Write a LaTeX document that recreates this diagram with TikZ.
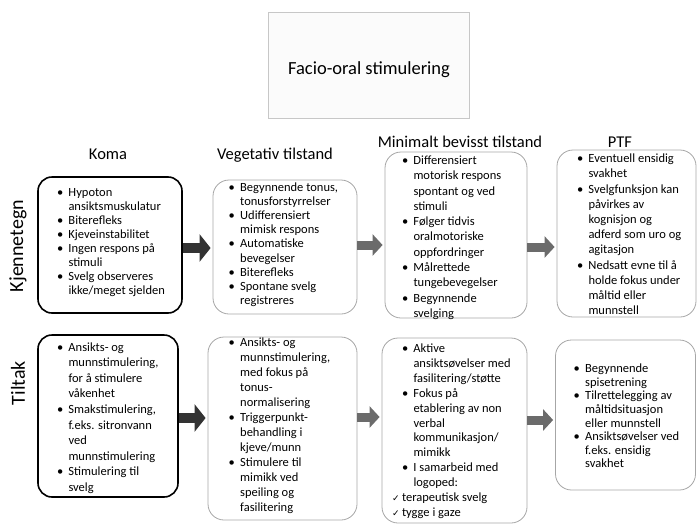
\documentclass[tikz,border=0pt]{standalone}
\usepackage{fontspec}
\setmainfont{Carlito}
\newfontfamily\symfont{DejaVu Sans}
\usetikzlibrary{arrows.meta}

% bullet with hanging indent, continuation indent, tick mark
\newcommand\bul{\makebox[11.5pt][l]{•}}
\newcommand\ind{\hspace*{11.5pt}}
\newcommand\chk{\hspace*{-10pt}\makebox[10pt][l]{\symfont\fontsize{9}{9}\selectfont ✓}}

\tikzset{
  kbox/.style={draw=black, line width=1.6pt, rounded corners=14pt, inner sep=0pt},
  gbox/.style={draw=black!35, line width=0.8pt, rounded corners=16pt, inner sep=0pt},
  txt/.style={anchor=north west, align=left, inner sep=0pt,
    font=\fontsize{12.5}{#1}\selectfont, execute at begin node={\rule{0pt}{9pt}}},
  head/.style={anchor=base, inner sep=0pt, font=\fontsize{16.5}{19}\selectfont},
  side/.style={rotate=90, inner sep=0pt, font=\fontsize{20}{24}\selectfont},
  darr/.style={line width=10pt, draw=black!80, shorten >=2pt,
    -{Triangle[length=11pt,width=27pt]}},
  garr/.style={line width=9pt, draw=black!58, shorten >=2pt,
    -{Triangle[length=10pt,width=21pt]}}
}

\begin{document}
\begin{tikzpicture}[x=1pt,y=-1pt]
\useasboundingbox (0,0) rectangle (698,525);

% title
\node[draw=black!22, fill=black!1.5, line width=0.6pt, minimum width=201pt,
  minimum height=106pt, inner sep=0pt] (titlebox) at (368.5,65) {};
\node[font=\fontsize{18.5}{22}\selectfont, inner sep=0pt] (title) at (369,70)
  {Facio-oral stimulering};

% column headings
\node[head] (hk) at (108,159) {Koma};
\node[head] (hv) at (275,159) {Vegetativ tilstand};
\node[head] (hm) at (460,147.5) {Minimalt bevisst tilstand};
\node[head] (hp) at (620,147.5) {PTF};

% row headings
\node[side] (rk) at (18,246) {Kjennetegn};
\node[side] (rt) at (18,383) {Tiltak};

% boxes, first row
\node[kbox, minimum width=144pt, minimum height=136pt] (k1) at (110,245) {};
\node[gbox, minimum width=144pt, minimum height=134pt] (v1) at (285,247) {};
\node[gbox, minimum width=142pt, minimum height=166pt] (m1) at (456,235) {};
\node[gbox, minimum width=139pt, minimum height=167pt] (p1) at (626.5,233.5) {};

% boxes, second row
\node[kbox, minimum width=140pt, minimum height=162pt] (k2) at (108,416) {};
\node[gbox, minimum width=149pt, minimum height=183pt] (v2) at (282.5,428.5) {};
\node[gbox, minimum width=145pt, minimum height=185pt] (m2) at (454.5,430.5) {};
\node[gbox, minimum width=140pt, minimum height=150pt] (p2) at (625.5,415) {};

% texts, first row
\node[txt=14.0] (k1t) at (56.8,188.5) {\bul Hypoton\\
\ind ansiktsmuskulatur\\
\bul Biterefleks\\
\bul Kjeveinstabilitet\\
\bul Ingen respons på\\
\ind stimuli\\
\bul Svelg observeres\\
\ind ikke/meget sjelden};

\node[txt=14.2] (v1t) at (228.5,182.2) {\bul Begynnende tonus,\\
\ind tonusforstyrrelser\\
\bul Udifferensiert\\
\ind mimisk respons\\
\bul Automatiske\\
\ind bevegelser\\
\bul Biterefleks\\
\bul Spontane svelg\\
\ind registreres};

\node[txt=15.3] (m1t) at (401.8,155.6) {\bul Differensiert\\
\ind motorisk respons\\
\ind spontant og ved\\
\ind stimuli\\
\bul Følger tidvis\\
\ind oralmotoriske\\
\ind oppfordringer\\
\bul Målrettede\\
\ind tungebevegelser\\
\bul Begynnende\\
\ind svelging};

\node[txt=15.2] (p1t) at (576.8,153.9) {\bul Eventuell ensidig\\
\ind svakhet\\
\bul Svelgfunksjon kan\\
\ind påvirkes av\\
\ind kognisjon og\\
\ind adferd som uro og\\
\ind agitasjon\\
\bul Nedsatt evne til å\\
\ind holde fokus under\\
\ind måltid eller\\
\ind munnstell};

% texts, second row
\node[txt=15.6] (k2t) at (56.8,342.2) {\bul Ansikts- og\\
\ind munnstimulering,\\
\ind for å stimulere\\
\ind våkenhet\\
\bul Smakstimulering,\\
\ind f.eks. sitronvann\\
\ind ved\\
\ind munnstimulering\\
\bul Stimulering til\\
\ind svelg};

\node[txt=15.0] (v2t) at (228.5,337.2) {\bul Ansikts- og\\
\ind munnstimulering,\\
\ind med fokus på\\
\ind tonus-\\
\ind normalisering\\
\bul Triggerpunkt-\\
\ind behandling i\\
\ind kjeve/munn\\
\bul Stimulere til\\
\ind mimikk ved\\
\ind speiling og\\
\ind fasilitering};

\node[txt=14.85] (m2t) at (401.8,343.9) {\bul Aktive\\
\ind ansiktsøvelser med\\
\ind fasilitering/støtte\\
\bul Fokus på\\
\ind etablering av non\\
\ind verbal\\
\ind kommunikasjon/\\
\ind mimikk\\
\bul I samarbeid med\\
\ind logoped:\\
\chk terapeutisk svelg\\
\chk tygge i gaze};

\node[txt=13.6] (p2t) at (573.5,363.9) {\bul Begynnende\\
\ind spisetrening\\
\bul Tilrettelegging av\\
\ind måltidsituasjon\\
\ind eller munnstell\\
\bul Ansiktsøvelser ved\\
\ind f.eks. ensidig\\
\ind svakhet};

% arrow heights
\coordinate (ra) at (0,248);
\coordinate (rb) at (0,245);
\coordinate (rc) at (0,247);
\coordinate (sa) at (0,418);
\coordinate (sb) at (0,417);
\coordinate (sc) at (0,420);

% arrows between stages
\draw[darr] (k1.east |- ra) -- (v1.west |- ra);
\draw[garr] (v1.east |- rb) -- (m1.west |- rb);
\draw[garr] (m1.east |- rc) -- (p1.west |- rc);
\draw[darr] (k2.east |- sa) -- (v2.west |- sa);
\draw[garr] (v2.east |- sb) -- (m2.west |- sb);
\draw[garr] (m2.east |- sc) -- (p2.west |- sc);
\end{tikzpicture}
\end{document}
